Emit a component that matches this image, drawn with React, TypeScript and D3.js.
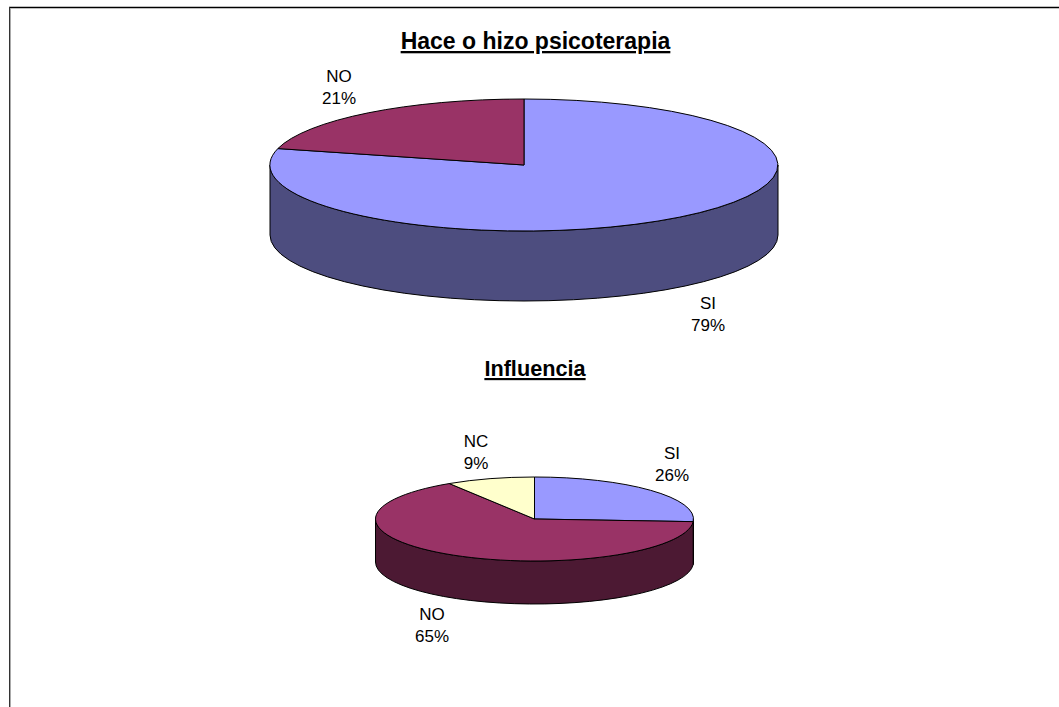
import React from "react";
import * as d3 from "d3";

const chart1Labels = ["SI", "NO"];
const chart1Values = [79, 21];
const chart1Tops = ["#9999FF", "#993366"];
const chart1Walls = ["#4D4D7F", "#4C1933"];

const chart2Labels = ["SI", "NO", "NC"];
const chart2Values = [26, 65, 9];
const chart2Tops = ["#9999FF", "#993366", "#FFFFCC"];
const chart2Walls = ["#4D4D7F", "#4C1933", "#7F7F66"];

const FONT = "Arial, 'Liberation Sans', sans-serif";

type PieProps = {
  labels: string[]; values: number[]; tops: string[]; walls: string[];
  cx: number; cy: number; rx: number; ry: number; depth: number;
  labelPos: [number, number][];
};

function Pie3D({ labels, values, tops, walls, cx, cy, rx, ry, depth, labelPos }: PieProps) {
  const slices = d3.pie<number>().sort(null)(values);
  const arc = d3.arc<d3.PieArcDatum<number>>().innerRadius(0).outerRadius(1);
  const px = (a: number) => cx + rx * Math.sin(a);
  const py = (a: number) => cy - ry * Math.cos(a);
  const wall = (s: d3.PieArcDatum<number>) => {
    const a0 = Math.max(s.startAngle, Math.PI / 2);
    const a1 = Math.min(s.endAngle, (3 * Math.PI) / 2);
    if (a1 <= a0) return null;
    return `M${px(a0)},${py(a0)}A${rx},${ry} 0 0 1 ${px(a1)},${py(a1)}L${px(a1)},${py(a1) + depth}A${rx},${ry} 0 0 0 ${px(a0)},${py(a0) + depth}Z`;
  };
  return (
    <g>
      {slices.map((s, i) => {
        const d = wall(s);
        return d ? <path key={i} d={d} fill={walls[i]} stroke="#000" strokeWidth={1} /> : null;
      })}
      <g transform={`translate(${cx},${cy}) scale(${rx},${ry})`}>
        {slices.map((s, i) => (
          <path key={i} d={arc(s) as string} fill={tops[i]} stroke="#000" strokeWidth={1} vectorEffect="non-scaling-stroke" />
        ))}
      </g>
      {labels.map((l, i) => (
        <text key={i} x={labelPos[i][0]} y={labelPos[i][1]} textAnchor="middle" fontFamily={FONT} fontSize={17} fill="#000">
          <tspan x={labelPos[i][0]}>{l}</tspan>
          <tspan x={labelPos[i][0]} dy={22}>{values[i]}%</tspan>
        </text>
      ))}
    </g>
  );
}

export default function App() {
  return (
    <svg width={1059} height={707} style={{ position: "absolute", left: 0, top: 0, display: "block" }}>
      <rect width={1059} height={707} fill="#fff" />
      <line x1={9} y1={7.5} x2={1059} y2={7.5} stroke="#000" strokeWidth={1.5} />
      <line x1={9.5} y1={7} x2={9.5} y2={707} stroke="#333" strokeWidth={1} />
      <line x1={10.5} y1={8} x2={10.5} y2={707} stroke="#aaa" strokeWidth={1} />
      <text x={535.5} y={49} textAnchor="middle" fontFamily={FONT} fontSize={23} fontWeight="bold" textDecoration="underline">Hace o hizo psicoterapia</text>
      <Pie3D labels={chart1Labels} values={chart1Values} tops={chart1Tops} walls={chart1Walls}
        cx={524} cy={165} rx={254} ry={66} depth={70} labelPos={[[708, 309], [339, 82]]} />
      <text x={535} y={376} textAnchor="middle" fontFamily={FONT} fontSize={21.7} fontWeight="bold" textDecoration="underline">Influencia</text>
      <Pie3D labels={chart2Labels} values={chart2Values} tops={chart2Tops} walls={chart2Walls}
        cx={534.5} cy={519} rx={159} ry={42} depth={43} labelPos={[[672, 459], [432, 620], [476, 447]]} />
    </svg>
  );
}
